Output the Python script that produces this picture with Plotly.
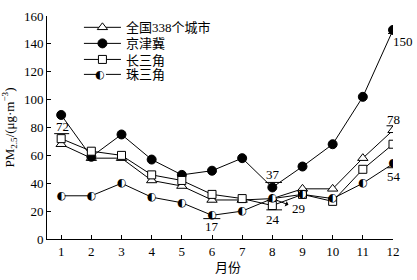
import plotly.graph_objects as go

months = list(range(1, 13))
month_labels = [str(m) for m in months]
nation = [68, 58, 58, 42, 38, 28, 28, 29, 36, 36, 58, 78]
jjj = [89, 59, 75, 57, 46, 49, 58, 37, 52, 68, 102, 150]
csj = [72, 63, 60, 46, 42, 32, 29, 24, 32, 27, 50, 68]
zsj = [31, 31, 40, 30, 26, 17, 20, 29, 32, 29, 40, 54]
names = ["全国338个城市", "京津冀", "长三角", "珠三角"]
y_ticks = [0, 20, 40, 60, 80, 100, 120, 140, 160]

SERIF = "Liberation Serif, Noto Sans CJK SC"
CJK = "Noto Sans CJK SC"
BLACK = "#000000"

fig = go.Figure()

line = dict(color=BLACK, width=1)
fig.add_trace(go.Scatter(x=months, y=nation, name=names[0], mode="lines+markers",
                         line=line, legend="legend",
                         marker=dict(symbol="triangle-up", size=9, color="white",
                                     line=dict(color=BLACK, width=1))))
fig.add_trace(go.Scatter(x=months, y=jjj, name=names[1], mode="lines+markers",
                         line=line, legend="legend2",
                         marker=dict(symbol="circle", size=9, color=BLACK,
                                     line=dict(color=BLACK, width=1))))
fig.add_trace(go.Scatter(x=months, y=csj, name=names[2], mode="lines+markers",
                         line=line, legend="legend3",
                         marker=dict(symbol="square", size=8, color="white",
                                     line=dict(color=BLACK, width=1))))
fig.add_trace(go.Scatter(x=months, y=zsj, name=names[3], mode="lines+markers",
                         line=line, legend="legend4",
                         marker=dict(symbol="circle", size=7, color="white",
                                     line=dict(color="white", width=0))))
fig.add_trace(go.Scatter(x=months, y=zsj, mode="text", text=["◐"] * len(months),
                         textposition="middle center", showlegend=False, hoverinfo="skip",
                         textfont=dict(family="DejaVu Sans", size=11, color=BLACK)))

# value labels with bars: (series, month index, text dx, text dy, bar dy, bar x0, bar x1)
series = {"nation": nation, "jjj": jjj, "csj": csj, "zsj": zsj}
labels = [
    ("csj", 0, 1, 12, 5, -7, 8),
    ("jjj", 11, 10, -12, -3.5, -5, 10),
    ("nation", 11, 0.5, 10.5, 4.5, -6.5, 9),
    ("zsj", 11, 0.5, -12.5, -4, -6, 9),
    ("jjj", 7, 1, 13, 5, -7, 9.7),
    ("csj", 7, 1, -14, -4.3, -6, 9.7),
    ("zsj", 5, 0, -11.5, -3.3, -8.7, 8.3),
]
for key, i, dx, dy, bdy, bx0, bx1 in labels:
    v = series[key][i]
    fig.add_annotation(x=months[i], y=v, text=str(v), showarrow=False,
                       xshift=dx, yshift=dy, font=dict(family=SERIF, size=13, color=BLACK))
    fig.add_shape(type="line", xref="x", yref="y", xsizemode="pixel", ysizemode="pixel",
                  xanchor=months[i], yanchor=v, x0=bx0, x1=bx1, y0=bdy, y1=bdy,
                  line=dict(color=BLACK, width=1))

fig.add_annotation(x=months[7], y=nation[7], text=str(nation[7]), showarrow=True,
                   ax=26, ay=10, arrowside="start", arrowhead=2, arrowsize=0.6,
                   arrowwidth=1, arrowcolor=BLACK, standoff=4, startstandoff=2,
                   font=dict(family=SERIF, size=13, color=BLACK))

fig.add_annotation(xref="paper", yref="paper", x=0.5235, y=-0.125, text="月份",
                   showarrow=False, xanchor="center", yanchor="middle",
                   font=dict(family=CJK, size=13, color=BLACK))

leg_common = dict(xanchor="left", yanchor="middle", bgcolor="rgba(0,0,0,0)",
                  font=dict(family=SERIF, size=13, color=BLACK), itemwidth=37)
leg_x = 0.0923
leg_y = [0.949, 0.877, 0.805, 0.738]
fig.update_layout(
    legend=dict(x=leg_x, y=leg_y[0], **leg_common),
    legend2=dict(x=leg_x, y=leg_y[1], **leg_common),
    legend3=dict(x=leg_x, y=leg_y[2], **leg_common),
    legend4=dict(x=leg_x, y=leg_y[3], **leg_common),
)
fig.add_annotation(xref="paper", yref="paper", x=leg_x, y=leg_y[3], xshift=21.5,
                   text="◐", showarrow=False, xanchor="center", yanchor="middle",
                   font=dict(family="DejaVu Sans", size=11, color=BLACK))

fig.update_layout(
    width=417, height=280,
    margin=dict(l=47, r=24, t=16, b=41, autoexpand=False),
    paper_bgcolor="white", plot_bgcolor="white",
    showlegend=True,
    xaxis=dict(range=[0.53, 12], tickvals=months, ticktext=month_labels,
               showline=True, linecolor=BLACK, linewidth=1, ticks="inside",
               ticklen=4, tickcolor=BLACK, showgrid=False, zeroline=False,
               automargin=False,
               tickfont=dict(family=SERIF, size=13, color=BLACK)),
    yaxis=dict(range=[0, 160], tickvals=y_ticks,
               showline=True, linecolor=BLACK, linewidth=1, ticks="inside",
               ticklen=4, tickcolor=BLACK, showgrid=False, zeroline=False,
               automargin=False,
               tickfont=dict(family=SERIF, size=13, color=BLACK),
               title=dict(text="PM<sub>2.5</sub>/(μg·m<sup>−3</sup>)", standoff=6,
                          font=dict(family=SERIF, size=13, color=BLACK))),
)

fig.write_html("out.html", config={"displayModeBar": False},
               post_script="document.body.style.margin='0px';")
